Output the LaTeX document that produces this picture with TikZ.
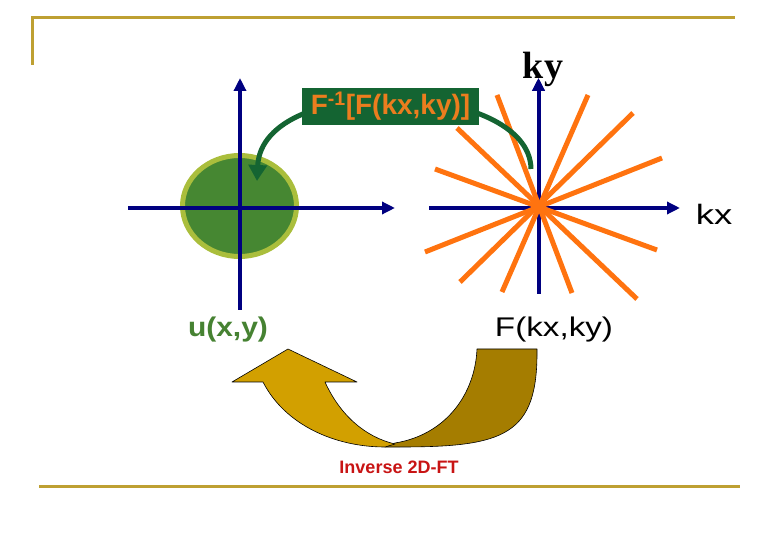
\documentclass[tikz,border=0pt]{standalone}
\usepackage{fontspec}
\setmainfont{Liberation Serif}
\setsansfont{Liberation Sans}
\usepackage{graphicx}
\usetikzlibrary{arrows.meta}
\definecolor{navyax}{RGB}{0,0,128}
\definecolor{goldline}{RGB}{190,160,50}
\definecolor{starorange}{RGB}{255,115,15}
\definecolor{boxgreen}{RGB}{20,100,50}
\definecolor{boxtext}{RGB}{235,125,30}
\definecolor{ringgreen}{RGB}{170,190,60}
\definecolor{discgreen}{RGB}{70,135,50}
\definecolor{ugreen}{RGB}{70,130,50}
\definecolor{goldlight}{RGB}{210,160,0}
\definecolor{golddark}{RGB}{165,125,0}
\definecolor{ftred}{RGB}{200,20,20}
\begin{document}
\begin{tikzpicture}[x=1pt,y=-1pt,
  axis/.style={navyax, line width=4pt, -{Triangle[width=12pt,length=13pt]}},
  ray/.style={starorange, line width=5pt},
  frameline/.style={goldline, line width=3pt},
  greenarc/.style={draw=boxgreen, line width=5pt, -{Triangle[width=18pt,length=16pt]}},
  lbl/.style={inner sep=0pt, anchor=base},
  uturn/.style={draw=black, line width=0.6pt, line join=round}]
\useasboundingbox (0,0) rectangle (780,540);
% frame lines
\coordinate (fa) at (32,65);
\coordinate (fb) at (32,18);
\coordinate (fc) at (735,18);
\coordinate (fd) at (39,486);
\coordinate (fe) at (740,486);
\draw[frameline] (fa) -- (fb) -- (fc);
\draw[frameline] (fd) -- (fe);
% disc
\filldraw[fill=discgreen, draw=ringgreen, line width=5pt] (239.5,206) ellipse[x radius=57, y radius=50.5];
% left axes
\coordinate (lxa) at (128,208);
\coordinate (lxb) at (395,208);
\coordinate (lya) at (240,310);
\coordinate (lyb) at (240,78);
\draw[axis] (lxa) -- (lxb);
\draw[axis] (lya) -- (lyb);
% right axes
\coordinate (rxa) at (429,208);
\coordinate (rxb) at (680,208);
\coordinate (rya) at (538.5,294);
\coordinate (ryb) at (538.5,78);
\draw[axis] (rxa) -- (rxb);
\draw[axis] (rya) -- (ryb);
% star
\coordinate (s1a) at (497,95);  \coordinate (s1b) at (572,293);
\coordinate (s2a) at (588,95);  \coordinate (s2b) at (502,292);
\coordinate (s3a) at (633,113); \coordinate (s3b) at (460,282);
\coordinate (s4a) at (662,158); \coordinate (s4b) at (425,252);
\coordinate (s5a) at (435,169); \coordinate (s5b) at (657,250);
\coordinate (s6a) at (457,128); \coordinate (s6b) at (637,299);
\coordinate (sc) at (540,207);
\foreach \i in {1,...,6} {\draw[ray] (s\i a) -- (s\i b);}
\fill[starorange] (sc) circle[radius=6];
% green arc arrow
\coordinate (arcS) at (531,169);
\coordinate (arcE) at (257,181);
\draw[greenarc] (arcS) .. controls (530,80) and (262,72) .. (arcE);
% box
\node[fill=boxgreen, minimum width=177pt, minimum height=37pt, inner sep=0pt,
      text=boxtext, font=\sffamily\bfseries\fontsize{28}{30}\selectfont]
      (inv) at (390.5,106.5) {F\textsuperscript{-1}[F(kx,ky)]};
% labels
\node[lbl, font=\rmfamily\bfseries\fontsize{38}{40}\selectfont] (ky) at (543,79) {ky};
\coordinate (kyarr) at (538.5,95);
\draw[axis] (kyarr) -- (ryb);
\node[lbl, font=\sffamily\fontsize{28}{30}\selectfont] (kx) at (714,225) {\scalebox{1.3}[1]{kx}};
\node[lbl, text=ugreen, font=\sffamily\bfseries\fontsize{27}{30}\selectfont] (uxy) at (228,336.4) {\scalebox{1.11}[1]{u(x,y)}};
\node[lbl, font=\sffamily\fontsize{27}{30}\selectfont] (Fk) at (554,336.4) {\scalebox{1.23}[1]{F(kx,ky)}};
% U-turn arrow
\filldraw[uturn, fill=golddark] (477,349) -- (537,349) .. controls (538,435) and (505,447) .. (400,447)
  -- (385,447) -- (395,443) .. controls (445,435) and (475,395) .. (477,349) -- cycle;
\filldraw[uturn, fill=goldlight] (395,444) .. controls (365,437) and (340,415) .. (325,382)
  -- (357,382) -- (288,349) -- (232,382) -- (263,382)
  .. controls (285,425) and (335,447) .. (385,447) -- cycle;
\node[lbl, text=ftred, font=\sffamily\bfseries\fontsize{18}{20}\selectfont] (ift) at (399,473) {Inverse 2D-FT};
\end{tikzpicture}
\end{document}
